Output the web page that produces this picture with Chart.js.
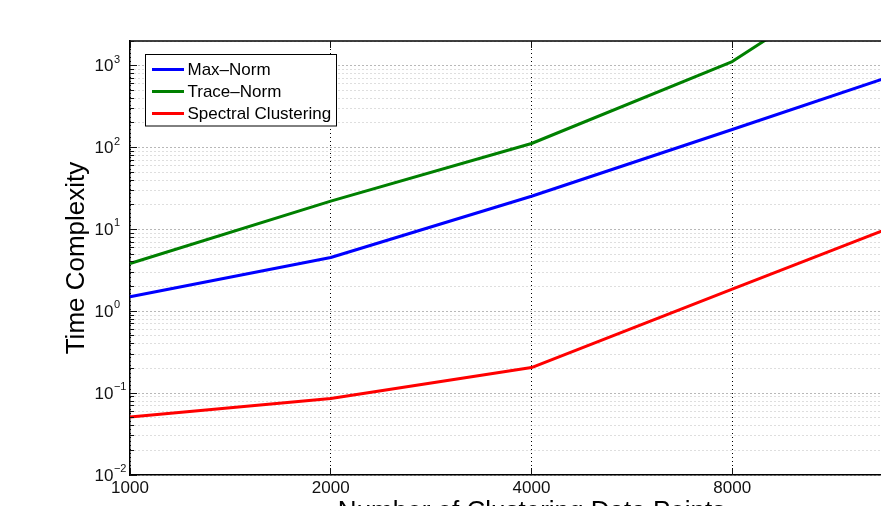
<!DOCTYPE html>
<html>
<head>
<meta charset="utf-8">
<title>Time Complexity vs Number of Clustering Data Points</title>
<script src="https://cdn.jsdelivr.net/npm/chart.js@4.4.1/dist/chart.umd.min.js"></script>
<style>
  html, body { margin: 0; padding: 0; background: #fff; overflow: hidden; }
  #frame { width: 881px; height: 506px; overflow: hidden; position: relative; background: #fff; }
  canvas { display: block; }
</style>
</head>
<body>
<div id="frame"><canvas id="chart" width="1000" height="540"></canvas></div>
<script>
// Number of data points clustered (x) and measured time for each method (y)
const dataPoints = [1000, 2000, 4000, 8000, 16000];
const maxNorm    = [1.50, 4.53, 25.4, 166, 1105];
const traceNorm  = [3.83, 22.1, 112, 1120, 44000];
const spectral   = [0.0511, 0.0858, 0.205, 1.86, 16.7];

const seriesNames  = ['Max\u2013Norm', 'Trace\u2013Norm', 'Spectral Clustering'];
const seriesColors = ['#0000ff', '#008000', '#ff0000'];

// Axis ticks
const xTicks   = [1000, 2000, 4000, 8000];
const yDecades = [-2, -1, 0, 1, 2, 3];
const yMin = 0.01;
const yMax = 2000;

const FONT = '"Liberation Sans", Arial, Helvetica, sans-serif';

function isDecade(v) {
  const l = Math.log10(v);
  return Math.abs(l - Math.round(l)) < 1e-9;
}

// every 1..9 x 10^k inside the range, for the minor grid
const yTickValues = [];
yDecades.forEach(k => {
  for (let m = 1; m <= 9; m++) {
    const v = m * Math.pow(10, k);
    if (v >= yMin * 0.999 && v <= yMax) yTickValues.push(v);
  }
});

function crisp(p) { return Math.round(p - 0.5) + 0.5; }

// Inward tick marks, top frame edge, 10^k labels and the boxed legend
const axisDecor = {
  id: 'axisDecor',
  afterDatasetsDraw(chart) {
    const { ctx, chartArea: a, scales: { x, y } } = chart;
    ctx.save();
    ctx.setLineDash([]);

    // top edge of the frame
    ctx.strokeStyle = '#000';
    ctx.lineWidth = 1.5;
    ctx.beginPath();
    ctx.moveTo(a.left, a.top);
    ctx.lineTo(a.right + 1, a.top);
    ctx.stroke();

    // tick marks pointing into the plot
    ctx.lineWidth = 1;
    ctx.strokeStyle = '#111';
    ctx.beginPath();
    y.ticks.forEach(t => {
      const py = crisp(y.getPixelForValue(t.value));
      const len = isDecade(t.value) ? 7 : 4;
      ctx.moveTo(a.left, py);
      ctx.lineTo(a.left + len, py);
    });
    x.ticks.forEach(t => {
      const px = crisp(x.getPixelForValue(t.value));
      ctx.moveTo(px, a.bottom);
      ctx.lineTo(px, a.bottom - 7);
      ctx.moveTo(px, a.top);
      ctx.lineTo(px, a.top + 7);
    });
    ctx.stroke();

    // y labels as 10 with a raised exponent
    ctx.fillStyle = '#111';
    yDecades.forEach(k => {
      const v = Math.pow(10, k);
      const py = y.getPixelForValue(v);
      const x0 = a.left - 35.5;
      ctx.font = '17px ' + FONT;
      ctx.textAlign = 'left';
      ctx.textBaseline = 'middle';
      ctx.fillText('10', x0, py + 1);
      const w = ctx.measureText('10').width;
      ctx.font = '11px ' + FONT;
      ctx.textBaseline = 'alphabetic';
      const exp = k < 0 ? '\u2212' + (-k) : String(k);
      ctx.fillText(exp, x0 + w + 0.5, py - 3);
    });

    // legend box
    const bx = a.left + 15.5, by = a.top + 13.5, bw = 191, bh = 71.5;
    ctx.fillStyle = '#fff';
    ctx.fillRect(bx, by, bw, bh);
    ctx.strokeStyle = '#000';
    ctx.lineWidth = 1;
    ctx.strokeRect(bx, by, bw, bh);
    ctx.font = '17px ' + FONT;
    ctx.textAlign = 'left';
    ctx.textBaseline = 'middle';
    chart.data.datasets.forEach((ds, i) => {
      const ry = a.top + 28.5 + i * 22;
      ctx.strokeStyle = ds.borderColor;
      ctx.lineWidth = 3;
      ctx.beginPath();
      ctx.moveTo(a.left + 22, ry);
      ctx.lineTo(a.left + 54, ry);
      ctx.stroke();
      ctx.fillStyle = '#000';
      ctx.fillText(ds.label, a.left + 57.5, ry + 0.5);
    });

    ctx.restore();
  }
};

const series = [maxNorm, traceNorm, spectral];

new Chart(document.getElementById('chart'), {
  type: 'line',
  data: {
    datasets: series.map((vals, i) => ({
      label: seriesNames[i],
      data: dataPoints.map((px, j) => ({ x: px, y: vals[j] })),
      borderColor: seriesColors[i],
      backgroundColor: seriesColors[i],
      borderWidth: 3,
      pointRadius: 0,
      tension: 0,
      fill: false,
      borderJoinStyle: 'round',
      clip: { left: 2, top: 0, right: 2, bottom: 2 }
    }))
  },
  options: {
    responsive: false,
    animation: false,
    devicePixelRatio: 1,
    layout: { padding: { left: 0, top: 41, right: 67, bottom: 0 } },
    plugins: {
      legend: { display: false },
      tooltip: { enabled: false }
    },
    scales: {
      x: {
        type: 'logarithmic',
        position: 'bottom',
        min: 1000,
        max: 16000,
        afterBuildTicks: s => { s.ticks = xTicks.map(v => ({ value: v })); },
        afterFit: s => { s.height = 65; },
        ticks: {
          callback: v => String(v),
          font: { family: FONT, size: 17 },
          color: '#111',
          padding: 3,
          maxRotation: 0,
          autoSkip: false
        },
        grid: { color: '#000', lineWidth: 1, drawTicks: false },
        border: { display: true, color: '#000', width: 1.5, dash: [1, 3] },
        title: {
          display: true,
          text: 'Number of Clustering Data Points',
          font: { family: FONT, size: 26 },
          color: '#000',
          padding: { top: 0, bottom: 13 }
        }
      },
      y: {
        type: 'logarithmic',
        position: 'left',
        min: yMin,
        max: yMax,
        afterBuildTicks: s => { s.ticks = yTickValues.map(v => ({ value: v, major: isDecade(v) })); },
        afterFit: s => { s.width = 130; },
        ticks: { display: false },
        grid: {
          color: c => (c.tick && isDecade(c.tick.value)) ? '#707070' : '#bcbcbc',
          lineWidth: 1,
          drawTicks: false
        },
        border: { display: true, color: '#000', width: 1.5, dash: [1, 3] },
        title: {
          display: true,
          text: 'Time Complexity',
          font: { family: FONT, size: 26 },
          color: '#000',
          padding: { top: 61, bottom: 0 }
        }
      }
    }
  },
  plugins: [axisDecor]
});
</script>
</body>
</html>
